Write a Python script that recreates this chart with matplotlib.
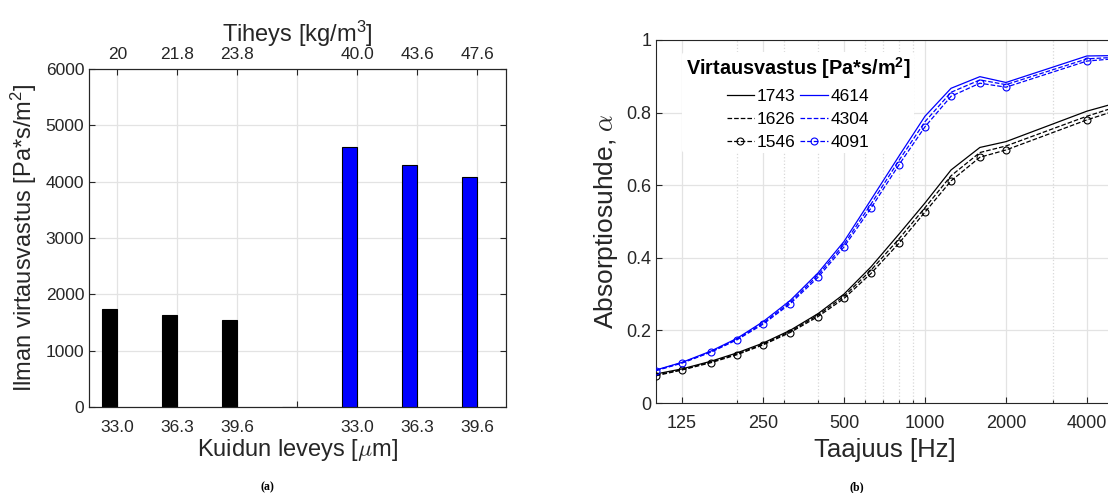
import matplotlib
matplotlib.use("Agg")
import matplotlib.pyplot as plt
import numpy as np
from matplotlib.ticker import FixedLocator, NullFormatter, LogLocator

plt.rcParams['font.family'] = ['Liberation Sans', 'DejaVu Sans']
plt.rcParams['mathtext.fontset'] = 'cm'

# ---------------- data: left bar chart ----------------
bar_pos = [1, 2, 3, 4, 5, 6, 7]
bar_values = [1743, 1626, 1546, 0, 4614, 4304, 4091]
bar_colors = ['black', 'black', 'black', 'black', 'blue', 'blue', 'blue']
width_labels = ['33.0', '36.3', '39.6', '', '33.0', '36.3', '39.6']
density_labels = ['20', '21.8', '23.8', '', '40.0', '43.6', '47.6']

# ---------------- data: right absorption chart ----------------
freqs = [100, 125, 160, 200, 250, 315, 400, 500, 630, 800, 1000, 1250, 1600, 2000, 4000, 5000]
a1743 = [0.080, 0.094, 0.115, 0.138, 0.165, 0.200, 0.246, 0.300, 0.375, 0.465, 0.551, 0.642, 0.704, 0.720, 0.804, 0.824]
a1626 = [0.077, 0.092, 0.113, 0.135, 0.162, 0.197, 0.242, 0.294, 0.366, 0.452, 0.538, 0.626, 0.690, 0.708, 0.790, 0.813]
a1546 = [0.075, 0.091, 0.111, 0.133, 0.160, 0.194, 0.238, 0.288, 0.357, 0.440, 0.526, 0.612, 0.677, 0.697, 0.780, 0.803]
a4614 = [0.091, 0.112, 0.143, 0.178, 0.224, 0.282, 0.358, 0.445, 0.560, 0.680, 0.790, 0.867, 0.899, 0.883, 0.956, 0.957]
a4304 = [0.090, 0.111, 0.141, 0.176, 0.220, 0.277, 0.352, 0.437, 0.548, 0.668, 0.775, 0.856, 0.890, 0.877, 0.948, 0.952]
a4091 = [0.089, 0.110, 0.140, 0.174, 0.217, 0.273, 0.346, 0.430, 0.537, 0.656, 0.761, 0.845, 0.881, 0.870, 0.942, 0.948]
freq_ticks = [125, 250, 500, 1000, 2000, 4000]
freq_ticklabels = ['125', '250', '500', '1000', '2000', '4000']
alpha_ticks = [0, 0.2, 0.4, 0.6, 0.8, 1.0]
alpha_ticklabels = ['0', '0.2', '0.4', '0.6', '0.8', '1']

W, H = 1108, 493
fig = plt.figure(figsize=(W / 100, H / 100), dpi=100)

def box(x0, y0, x1, y1):
    return [x0 / W, 1 - y1 / H, (x1 - x0) / W, (y1 - y0) / H]

grid_col = '#e3e3e3'
spine_col = '#262626'
txt_col = '#262626'

# ---------------- left chart ----------------
ax1 = fig.add_axes(box(89, 69, 506, 407))
ax1.bar(np.array(bar_pos) - 0.13, bar_values, width=0.24, color=bar_colors,
        edgecolor='black', linewidth=0.8, zorder=3)
ax1.set_xlim(0.528, 7.48)
ax1.set_ylim(0, 6000)
ax1.set_yticks([0, 1000, 2000, 3000, 4000, 5000, 6000])
ax1.set_xticks(bar_pos)
ax1.set_xticklabels(width_labels)
ax1.grid(True, color=grid_col, linewidth=0.9, zorder=0)
ax1.set_axisbelow(True)
ax1.tick_params(direction='in', labelsize=12.5, colors=spine_col, length=4, width=0.8, right=True)
ax1.tick_params(axis='x', pad=9)
for s in ax1.spines.values():
    s.set_color(spine_col)
ax1.set_xlabel(r'Kuidun leveys [$\mu$m]', fontsize=17, color=txt_col, labelpad=2)
ax1.set_ylabel(r'Ilman virtausvastus [Pa*s/m$\mathregular{^2}$]', fontsize=17, color=txt_col, labelpad=5)
ax1t = ax1.twiny()
ax1t.set_xlim(ax1.get_xlim())
ax1t.set_xticks(bar_pos)
ax1t.set_xticklabels(density_labels)
ax1t.tick_params(direction='in', labelsize=12.5, colors=spine_col, length=4, width=0.8, pad=5)
for s in ax1t.spines.values():
    s.set_color(spine_col)
ax1t.set_xlabel(r'Tiheys [kg/m$\mathregular{^3}$]', fontsize=17, color=txt_col, labelpad=4)

fig.text(267 / W, 1 - 487 / H, '(a)', fontsize=8.5, fontweight='bold',
         family='Liberation Serif', ha='center', va='center')

# ---------------- right chart ----------------
ax2 = fig.add_axes(box(656, 40, 1113, 403))
ax2.plot(freqs, a1743, color='black', linestyle='-', linewidth=0.9, label='1743', zorder=3)
ax2.plot(freqs, a1626, color='black', linestyle='--', linewidth=0.9, label='1626', zorder=3)
ax2.plot(freqs, a1546, color='black', linestyle='--', linewidth=0.9, marker='o',
         markersize=5, markerfacecolor='none', markeredgewidth=0.8, label='1546', zorder=3)
ax2.plot(freqs, a4614, color='blue', linestyle='-', linewidth=0.9, label='4614', zorder=3)
ax2.plot(freqs, a4304, color='blue', linestyle='--', linewidth=0.9, label='4304', zorder=3)
ax2.plot(freqs, a4091, color='blue', linestyle='--', linewidth=0.9, marker='o',
         markersize=5, markerfacecolor='none', markeredgewidth=0.8, label='4091', zorder=3)
ax2.set_xscale('log')
ax2.set_xlim(100, 5000)
ax2.set_ylim(0, 1)
ax2.xaxis.set_major_locator(FixedLocator(freq_ticks))
ax2.set_xticklabels(freq_ticklabels)
ax2.xaxis.set_minor_locator(LogLocator(base=10, subs=np.arange(2, 10)))
ax2.xaxis.set_minor_formatter(NullFormatter())
ax2.set_yticks(alpha_ticks)
ax2.set_yticklabels(alpha_ticklabels)
ax2.grid(True, which='major', color=grid_col, linewidth=0.9)
ax2.grid(True, which='minor', axis='x', color='#d8d8d8', linestyle=':', linewidth=0.9)
ax2.set_axisbelow(True)
ax2.tick_params(which='both', direction='in', labelsize=13, colors=spine_col, length=4, width=0.8)
ax2.tick_params(axis='x', which='major', pad=9)
ax2.tick_params(which='minor', length=2)
for s in ax2.spines.values():
    s.set_color(spine_col)
ax2.set_xlabel('Taajuus [Hz]', fontsize=18.5, color=txt_col, labelpad=4)
ax2.set_ylabel(r'Absorptiosuhde, $\alpha$', fontsize=19, color=txt_col, labelpad=4)

handles, labels = ax2.get_legend_handles_labels()
leg = ax2.legend(handles, labels, ncol=2, loc='upper left',
                 bbox_to_anchor=(0.038, 0.992), frameon=True, fontsize=12.5,
                 title=r'Virtausvastus [Pa*s/m$\mathregular{^2}$]',
                 handlelength=1.6, handletextpad=0.15, columnspacing=0.25,
                 labelspacing=0.45, borderpad=0.2)
leg.get_frame().set_edgecolor('none')
leg.get_frame().set_facecolor('white')
leg.get_frame().set_alpha(1.0)
leg.get_title().set_fontweight('bold')
leg.get_title().set_fontsize(14.3)
leg.set_zorder(2)

fig.text(857 / W, 1 - 487 / H, '(b)', fontsize=8.5, fontweight='bold',
         family='Liberation Serif', ha='center', va='center')

fig.savefig('out.png', dpi=100)
